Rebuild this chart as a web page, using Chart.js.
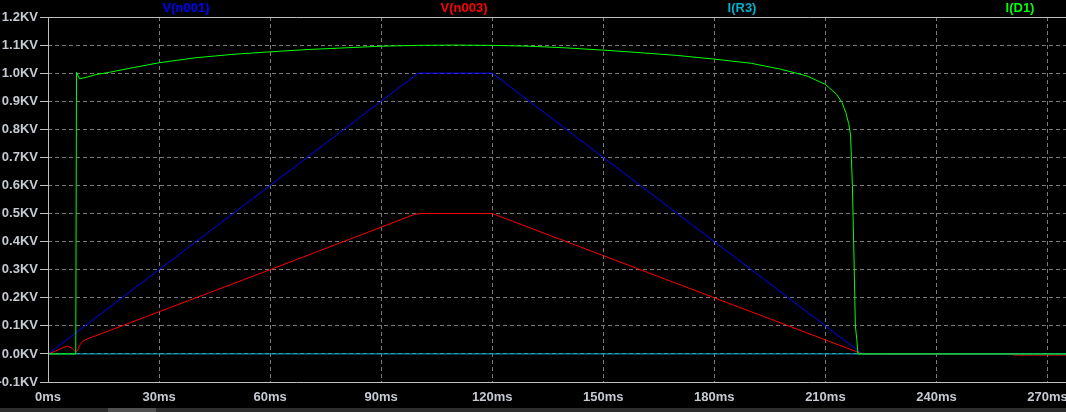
<!DOCTYPE html>
<html>
<head>
<meta charset="utf-8">
<script src="https://cdn.jsdelivr.net/npm/chart.js@4.4.0/dist/chart.umd.min.js"></script>
<style>
  html, body { margin: 0; padding: 0; background: #000; }
  #wrap { width: 1066px; height: 412px; position: relative; }
</style>
</head>
<body>
<div id="wrap"><canvas id="plot" width="1066" height="412"></canvas></div>
<script>
// time in ms, values in KV (LTspice style plot)
const n001Time = [0, 100, 120, 220, 275]
const n001Volt = [0, 1.0, 1.0, 0, 0]

const n003Time = [0, 2, 4, 5.3, 6.5, 7.5, 8, 8.5, 9.4, 11, 14, 30, 60, 99, 100.5, 120, 220, 260, 261, 275]
const n003Volt = [0, 0.01, 0.022, 0.028, 0.02, 0.007, 0.013, 0.03, 0.045, 0.056, 0.07, 0.15, 0.3, 0.497, 0.5, 0.5, 0, 0, -0.004, -0.004]

const r3Time = [0, 275]
const r3Curr = [0, 0]

const d1Time = [0, 7.5, 7.7, 8.5, 10.3, 13, 16.6, 20, 30, 40, 50, 60, 70, 80, 90, 100, 110, 120, 130, 140, 150,
  160, 170, 180, 190, 198, 205, 210, 213, 214.5, 215.5, 216.3, 216.8, 217.3, 217.8, 218.1, 218.5, 218.8, 275]
const d1Curr = [0, 0, 1.003, 0.98, 0.985, 0.995, 1.003, 1.012, 1.037, 1.055, 1.067, 1.076, 1.084, 1.09, 1.096, 1.099, 1.1, 1.099, 1.096, 1.09, 1.082,
  1.073, 1.063, 1.05, 1.035, 1.014, 0.99, 0.96, 0.925, 0.895, 0.86, 0.82, 0.78, 0.6, 0.3, 0.1, 0.05, 0, 0]

const xTicks = [0, 30, 60, 90, 120, 150, 180, 210, 240, 270]

const labelFont = { family: "'Liberation Sans', Arial, sans-serif", size: 13, weight: "bold" }
const labelColor = "#c6cad2"
const gridColor = "#7a7a7a"
const frameColor = "#c0c0c0"

function points(xs, ys) {
  return xs.map((x, i) => ({ x: x, y: ys[i] }))
}

const series = [
  { label: "V(n001)", color: "#0000ff", data: points(n001Time, n001Volt), order: 3 },
  { label: "V(n003)", color: "#ff0000", data: points(n003Time, n003Volt), order: 2 },
  { label: "I(R3)", color: "#00b0cc", data: points(r3Time, r3Curr), order: 1 },
  { label: "I(D1)", color: "#00ff00", data: points(d1Time, d1Curr), order: 0 },
]

const ltspiceFrame = {
  id: "ltspiceFrame",
  beforeDraw(chart) {
    const ctx = chart.ctx
    ctx.save()
    ctx.fillStyle = "#000"
    ctx.fillRect(0, 0, chart.width, chart.height)
    ctx.restore()
  },
  afterDraw(chart) {
    const ctx = chart.ctx
    const area = chart.chartArea
    ctx.save()
    // frame
    ctx.strokeStyle = frameColor
    ctx.lineWidth = 1
    ctx.beginPath()
    ctx.moveTo(area.left - 8, Math.round(area.top) + 0.5)
    ctx.lineTo(chart.width, Math.round(area.top) + 0.5)
    ctx.moveTo(area.left - 8, Math.round(area.bottom) + 0.5)
    ctx.lineTo(chart.width, Math.round(area.bottom) + 0.5)
    ctx.moveTo(Math.round(area.left) + 0.5, area.top)
    ctx.lineTo(Math.round(area.left) + 0.5, area.bottom)
    ctx.stroke()

    // trace names across the top
    ctx.font = "bold 13px 'Liberation Sans', Arial, sans-serif"
    ctx.textAlign = "center"
    ctx.textBaseline = "middle"
    chart.data.datasets.forEach((ds, i) => {
      ctx.fillStyle = ds.borderColor
      ctx.fillText(ds.label, area.left + 138 + 278 * i, 8)
    })

    // scroll bar at the bottom
    ctx.fillStyle = "#2e2e2e"
    ctx.fillRect(0, 408, chart.width, 4)
    ctx.fillStyle = "#505050"
    ctx.fillRect(108, 408, 48, 4)
    ctx.restore()
  }
}

new Chart(document.getElementById("plot"), {
  type: "line",
  data: {
    datasets: series.map(s => ({
      label: s.label,
      data: s.data,
      borderColor: s.color,
      borderWidth: 1,
      pointRadius: 0,
      tension: 0,
      order: s.order,
    })),
  },
  options: {
    responsive: false,
    animation: false,
    devicePixelRatio: 1,
    layout: { padding: { top: 17, right: 0, left: 0, bottom: 0 } },
    plugins: {
      legend: { display: false },
      tooltip: { enabled: false },
    },
    scales: {
      x: {
        type: "linear",
        min: 0,
        max: 275,
        afterBuildTicks: scale => {
          scale.ticks = xTicks.map(v => ({ value: v }))
        },
        afterFit: scale => {
          scale.height = 30
          scale.paddingLeft = 0
          scale.paddingRight = 0
        },
        border: { display: false, dash: [4, 3] },
        grid: {
          color: ctx => ctx.tick && ctx.tick.value === 0 ? "rgba(0,0,0,0)" : gridColor,
          drawTicks: false,
        },
        ticks: {
          color: labelColor,
          font: labelFont,
          padding: 8,
          maxRotation: 0,
          autoSkip: false,
          callback: v => v + "ms",
        },
      },
      y: {
        min: -0.1,
        max: 1.2,
        afterFit: scale => { scale.width = 48 },
        border: { display: false, dash: [4, 3] },
        grid: {
          color: ctx => {
            const v = ctx.tick ? Math.round(ctx.tick.value * 10) : 0
            return v === 12 || v === -1 ? "rgba(0,0,0,0)" : gridColor
          },
          tickColor: frameColor,
          tickLength: 8,
        },
        ticks: {
          stepSize: 0.1,
          color: labelColor,
          font: labelFont,
          padding: 2,
          callback: v => v.toFixed(1) + "KV",
        },
      },
    },
  },
  plugins: [ltspiceFrame],
})
</script>
</body>
</html>
